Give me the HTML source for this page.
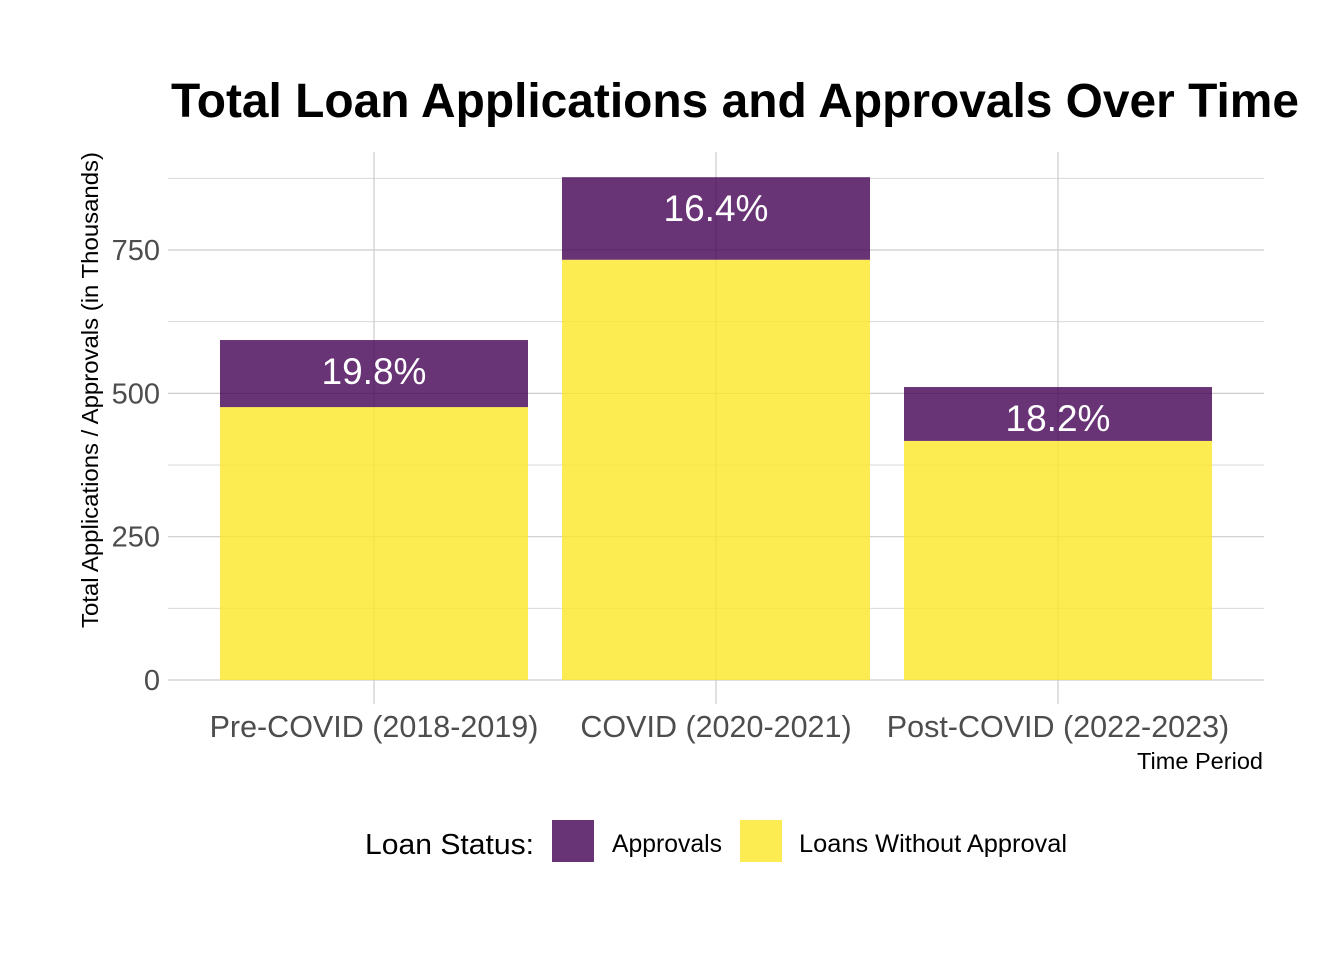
<!DOCTYPE html>
<html><head><meta charset="utf-8"><style>
html,body{margin:0;padding:0;background:#fff;}
svg{display:block;font-family:"Liberation Sans",Arial,sans-serif;}
</style></head><body>
<svg id="chart" width="1344" height="960">
<text x="735" y="117" text-anchor="middle" font-size="48" font-weight="bold" fill="#000" textLength="1128" lengthAdjust="spacingAndGlyphs">Total Loan Applications and Approvals Over Time</text>
<g id="grid"></g>
<g id="bars"></g>
<g id="axes"></g>
<text x="1263" y="769" text-anchor="end" font-size="23" fill="#000" textLength="126" lengthAdjust="spacingAndGlyphs">Time Period</text>
<text transform="translate(98,390) rotate(-90)" text-anchor="middle" font-size="23" fill="#000" textLength="476" lengthAdjust="spacingAndGlyphs">Total Applications / Approvals (in Thousands)</text>
<g>
<text x="365" y="854" font-size="29" fill="#000" textLength="169" lengthAdjust="spacingAndGlyphs">Loan Status:</text>
<rect x="552" y="820" width="42" height="42" fill="#440154" fill-opacity="0.8"/>
<text x="612" y="852" font-size="25" fill="#000" textLength="110" lengthAdjust="spacingAndGlyphs">Approvals</text>
<rect x="740" y="820" width="42" height="42" fill="#FDE725" fill-opacity="0.8"/>
<text x="799" y="852" font-size="25" fill="#000" textLength="268" lengthAdjust="spacingAndGlyphs">Loans Without Approval</text>
</g>
</svg>
<script>
const categories = ["Pre-COVID (2018-2019)", "COVID (2020-2021)", "Post-COVID (2022-2023)"];
const withoutApproval = [476, 733, 417];
const approvals = [117, 144, 94];
const pctLabels = ["19.8%", "16.4%", "18.2%"];
const yTicks = [0, 250, 500, 750];
const yMinor = [125, 375, 625, 875];

const NS = "http://www.w3.org/2000/svg";
const px0 = 168, px1 = 1264, pyTop = 152;
const y = v => 680 - v * (143.33 / 250);
const x = i => 374 + i * 342;
const bw = 308;
function mk(tag, attrs, parent, text) {
  const el = document.createElementNS(NS, tag);
  for (const k in attrs) el.setAttribute(k, attrs[k]);
  if (text !== undefined) el.textContent = text;
  parent.appendChild(el);
  return el;
}
const grid = document.getElementById('grid');
const bars = document.getElementById('bars');
const axes = document.getElementById('axes');
yMinor.forEach(v => {
  const l = mk('line', {x1: px0, x2: px1, y1: y(v), y2: y(v), stroke: '#d9d9d9', 'stroke-width': 1}, grid);
  
  
});
yTicks.forEach(v => {
  const l = mk('line', {x1: px0, x2: px1, y1: y(v), y2: y(v), stroke: '#cccccc', 'stroke-width': 1.2}, grid);
  
  
  const t = mk('text', {x: 160, y: y(v) + 10, 'text-anchor': 'end', 'font-size': 29, fill: '#4d4d4d'}, axes, String(v));
  
  
});
categories.forEach((c, i) => {
  const l = mk('line', {x1: x(i), x2: x(i), y1: pyTop, y2: 704, stroke: '#cccccc', 'stroke-width': 1.2}, grid);
  
  
  const t = mk('text', {x: x(i), y: 737, 'text-anchor': 'middle', 'font-size': 30.5, fill: '#4d4d4d'}, axes, c);
  
  
  const b1 = mk('rect', {x: x(i) - bw/2, y: y(withoutApproval[i]), width: bw, height: y(0) - y(withoutApproval[i]), fill: '#FDE725', 'fill-opacity': 0.8}, bars);
  
  
  const top = withoutApproval[i] + approvals[i];
  const b2 = mk('rect', {x: x(i) - bw/2, y: y(top), width: bw, height: y(withoutApproval[i]) - y(top), fill: '#440154', 'fill-opacity': 0.8}, bars);
  
  
  const lt = mk('text', {x: x(i), y: y(top) + 44, 'text-anchor': 'middle', 'font-size': 37, fill: '#fff'}, bars, pctLabels[i]);
  
  
});
</script>
</body></html>
